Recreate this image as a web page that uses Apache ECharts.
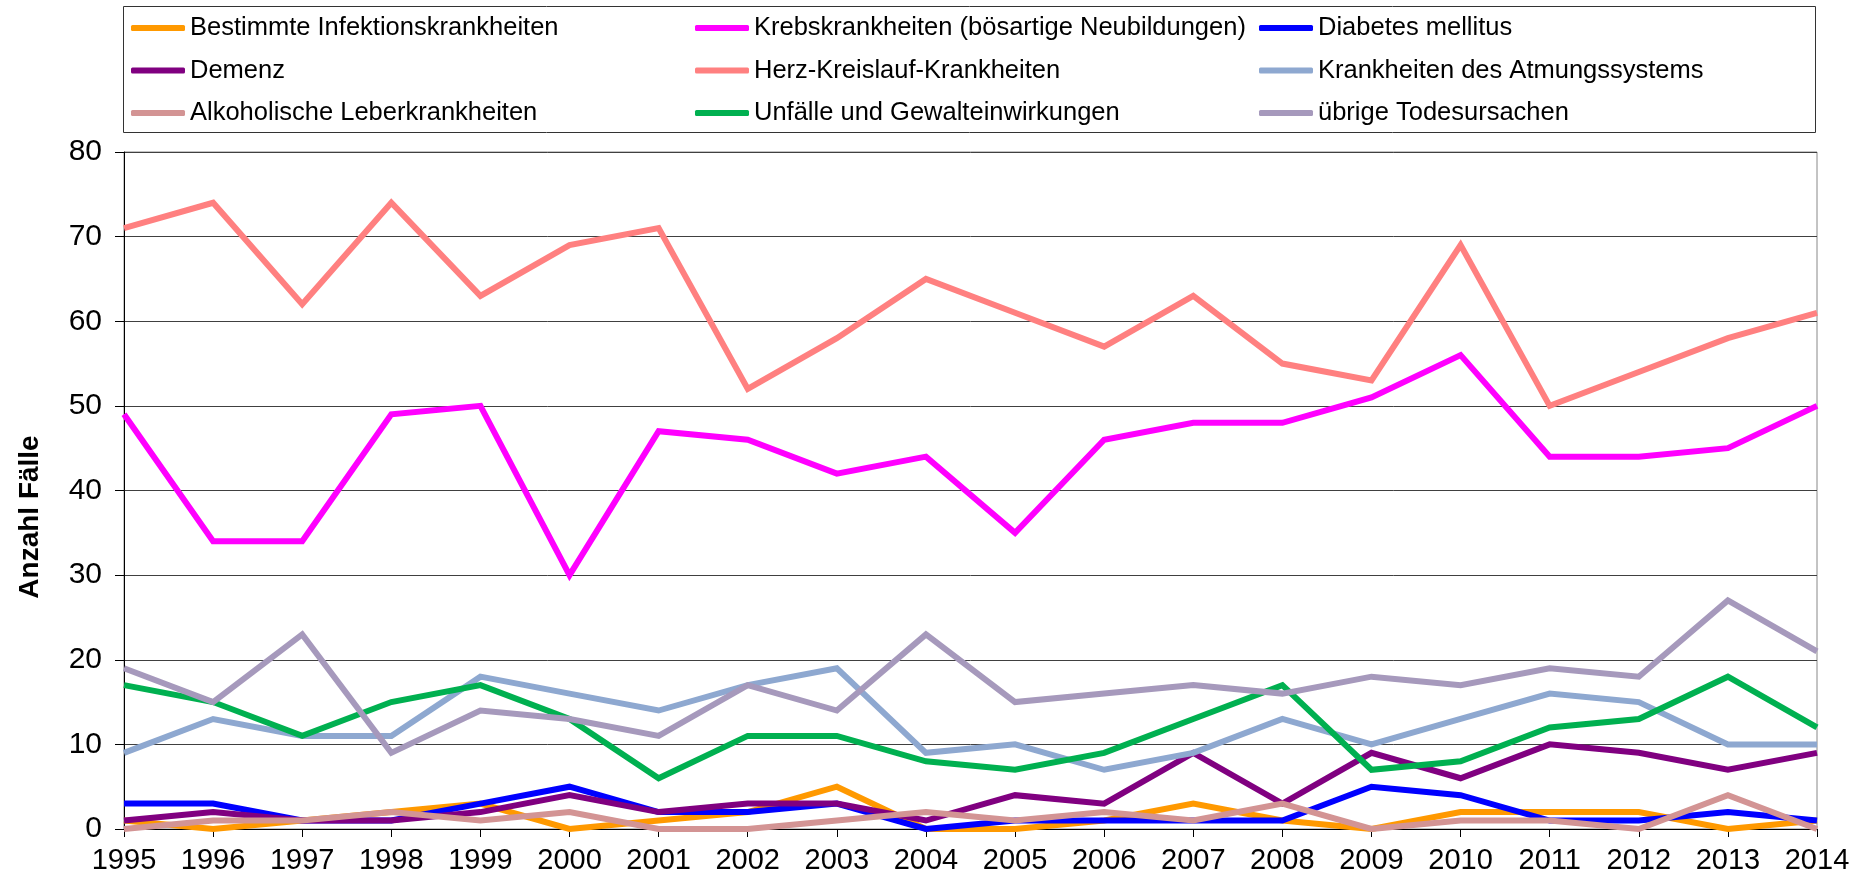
<!DOCTYPE html>
<html>
<head>
<meta charset="utf-8">
<script src="https://cdn.jsdelivr.net/npm/echarts@6/dist/echarts.min.js"></script>
<style>
html,body{margin:0;padding:0;background:#fff;}
#chart{width:1862px;height:877px;}
</style>
</head>
<body>
<div id="chart"></div>
<script>
var years = ['1995','1996','1997','1998','1999','2000','2001','2002','2003','2004','2005','2006','2007','2008','2009','2010','2011','2012','2013','2014'];
var yTicks = [0,10,20,30,40,50,60,70,80];

var infektionen = [1,0,1,2,3,0,1,2,5,0,0,1,3,1,0,2,2,2,0,1];
var krebs       = [49,34,34,49,50,30,47,46,42,44,35,46,48,48,51,56,44,44,45,50];
var diabetes    = [3,3,1,1,3,5,2,2,3,0,1,1,1,1,5,4,1,1,2,1];
var demenz      = [1,2,1,1,2,4,2,3,3,1,4,3,9,3,9,6,10,9,7,9];
var herz        = [71,74,62,74,63,69,71,52,58,65,61,57,63,55,53,69,50,54,58,61];
var atmung      = [9,13,11,11,18,16,14,17,19,9,10,7,9,13,10,13,16,15,10,10];
var alkohol     = [0,1,1,2,1,2,0,0,1,2,1,2,1,3,0,1,1,0,4,0];
var unfaelle    = [17,15,11,15,17,13,6,11,11,8,7,9,13,17,7,8,12,13,18,12];
var uebrige     = [19,15,23,9,14,13,11,17,14,23,15,16,17,16,18,17,19,18,27,21];

var names = ['Bestimmte Infektionskrankheiten','Krebskrankheiten (bösartige Neubildungen)','Diabetes mellitus',
             'Demenz','Herz-Kreislauf-Krankheiten','Krankheiten des Atmungssystems',
             'Alkoholische Leberkrankheiten','Unfälle und Gewalteinwirkungen','übrige Todesursachen'];
var values = [infektionen,krebs,diabetes,demenz,herz,atmung,alkohol,unfaelle,uebrige];
var colors = ['#FF9900','#FF00FF','#0000FF','#800080','#FF8080','#8EA8D0','#D39494','#00B050','#A699BC'];

var FONT = 'Liberation Sans, Arial, sans-serif';

var series = names.map(function(n,i){
  return {
    name:n, type:'line', data:values[i], showSymbol:false, symbol:'none',
    lineStyle:{width:6,color:colors[i],join:'miter'}, itemStyle:{color:colors[i]},
    animation:false
  };
});

function legendCol(left, items){
  return {
    orient:'vertical', left:left, top:15, padding:0,
    itemWidth:54, itemHeight:6, itemGap:16.5, icon:'roundRect',
    textStyle:{fontFamily:FONT,fontSize:25.5,color:'#000',lineHeight:26,padding:[0,0,0,0]},
    data:items, selectedMode:false
  };
}

var chart = echarts.init(document.getElementById('chart'), null, {renderer:'canvas'});
chart.setOption({
  backgroundColor:'#fff',
  animation:false,
  textStyle:{fontFamily:FONT},
  legend:[
    legendCol(131,[names[0],names[3],names[6]]),
    legendCol(695,[names[1],names[4],names[7]]),
    legendCol(1259,[names[2],names[5],names[8]])
  ],
  graphic:[
    {type:'rect', shape:{x:123.5,y:6.5,width:1692,height:126}, style:{fill:null,stroke:'#333',lineWidth:1}, z:-1},
    {type:'text', x:30, y:517, rotation:Math.PI/2,
     style:{text:'Anzahl Fälle', font:'bold 28px Liberation Sans, Arial, sans-serif', fill:'#000',
            textAlign:'center', textVerticalAlign:'middle'}}
  ],
  grid:{left:124,right:45,top:152,bottom:48,show:true,borderColor:'#888',borderWidth:1,containLabel:false},
  xAxis:{
    type:'category', data:years, boundaryGap:false,
    axisLine:{lineStyle:{color:'#000',width:1}},
    axisTick:{show:true,length:8,lineStyle:{color:'#000'},alignWithLabel:true},
    axisLabel:{fontFamily:FONT,fontSize:29,color:'#000',margin:17,interval:0}
  },
  yAxis:{
    type:'value', min:0, max:80, interval:10,
    axisLine:{show:true,lineStyle:{color:'#000',width:1}},
    axisTick:{show:true,length:9,lineStyle:{color:'#000'}},
    axisLabel:{fontFamily:FONT,fontSize:30,color:'#000',margin:22,
      formatter:function(v){return yTicks.indexOf(v)>=0?String(v):'';}},
    splitLine:{show:true,lineStyle:{color:'#404040',width:1}}
  },
  series:series
});
</script>
</body>
</html>
